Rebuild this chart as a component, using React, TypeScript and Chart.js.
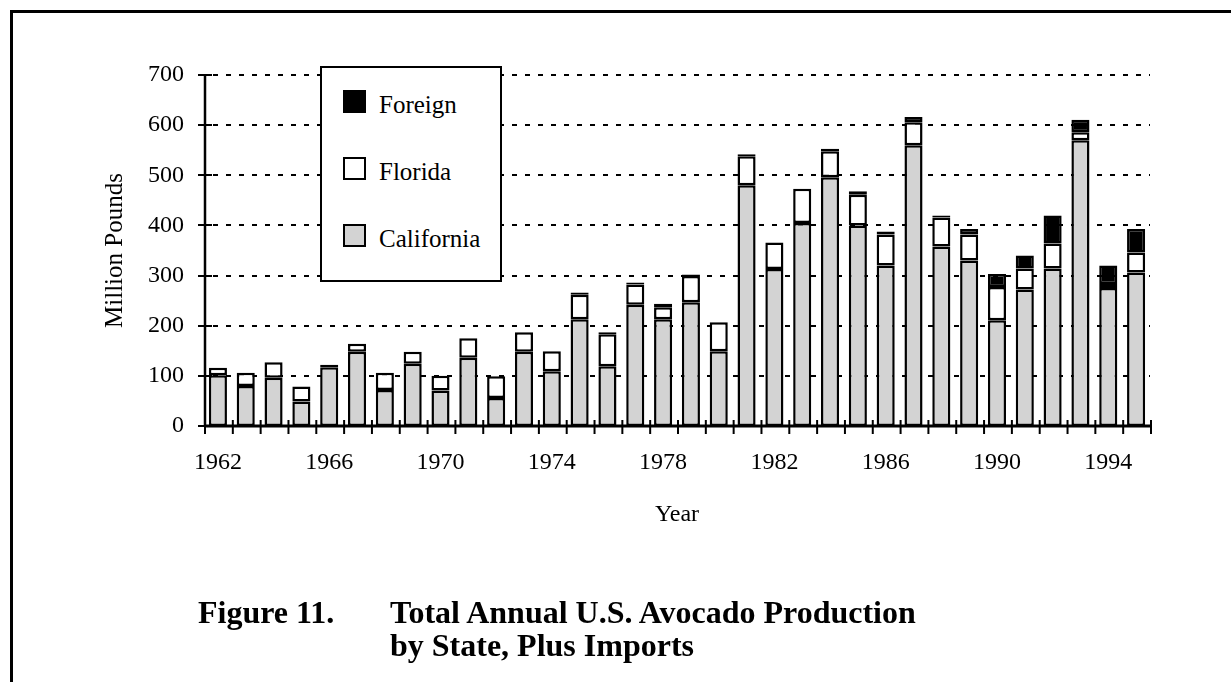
import React, { useEffect, useRef } from "react";
import { Chart, registerables } from "chart.js";

Chart.register(...registerables);

const years = [
  "1962", "1963", "1964", "1965", "1966", "1967", "1968", "1969", "1970", "1971",
  "1972", "1973", "1974", "1975", "1976", "1977", "1978", "1979", "1980", "1981",
  "1982", "1983", "1984", "1985", "1986", "1987", "1988", "1989", "1990", "1991",
  "1992", "1993", "1994", "1995",
];
const california = [
  101, 80, 96, 49, 117, 148, 72, 124, 71, 136,
  56, 148, 109, 213, 119, 242, 213, 247, 149, 480,
  313, 405, 496, 400, 320, 560, 358, 330, 211, 272,
  314, 570, 275, 306,
];
const florida = [
  15, 26, 31, 30, 5, 16, 34, 24, 29, 39,
  43, 39, 40, 49, 64, 40, 24, 52, 58, 58,
  53, 68, 52, 61, 62, 46, 58, 52, 66, 42,
  50, 16, 8, 40,
];
const foreign = [
  0, 0, 0, 0, 0, 0, 0, 0, 0, 0,
  0, 0, 0, 4, 4, 4, 7, 3, 0, 4,
  0, 0, 5, 7, 6, 10, 4, 11, 26, 26,
  56, 25, 37, 47,
];
const yTickValues = [0, 100, 200, 300, 400, 500, 600, 700];
const xTickLabels = ["1962", "1966", "1970", "1974", "1978", "1982", "1986", "1990", "1994"];

const FONT = "'Liberation Serif', 'Times New Roman', Times, serif";

const decorPlugin = {
  id: "decor",
  beforeDatasetsDraw(chart: any) {
    const { ctx, chartArea: a, scales } = chart;
    const y = scales.y;
    ctx.save();
    ctx.strokeStyle = "#000";
    ctx.lineWidth = 2;
    ctx.setLineDash([5, 8]);
    for (const v of yTickValues) {
      if (v === 0) continue;
      const py = Math.round(y.getPixelForValue(v));
      ctx.beginPath();
      ctx.moveTo(a.left + 9, py);
      ctx.lineTo(a.right, py);
      ctx.stroke();
    }
    ctx.restore();
  },
  afterDatasetsDraw(chart: any) {
    const { ctx, chartArea: a, scales } = chart;
    const x = scales.x;
    const y = scales.y;
    ctx.save();
    ctx.strokeStyle = "#000";
    ctx.setLineDash([]);
    // y axis line
    ctx.lineWidth = 2.5;
    ctx.beginPath();
    ctx.moveTo(a.left + 1, y.getPixelForValue(yTickValues[yTickValues.length - 1]));
    ctx.lineTo(a.left + 1, a.bottom + 1);
    ctx.stroke();
    // y ticks
    ctx.lineWidth = 2;
    for (const v of yTickValues) {
      const py = Math.round(y.getPixelForValue(v));
      ctx.beginPath();
      ctx.moveTo(a.left - 6, py);
      ctx.lineTo(a.left + 8, py);
      ctx.stroke();
    }
    // x axis line
    ctx.lineWidth = 3;
    ctx.beginPath();
    ctx.moveTo(a.left, a.bottom);
    ctx.lineTo(a.right + 2, a.bottom);
    ctx.stroke();
    // x ticks at category boundaries
    const n = years.length;
    const half = (x.getPixelForValue(1) - x.getPixelForValue(0)) / 2;
    ctx.lineWidth = 2;
    for (let i = 0; i <= n; i++) {
      const px = i < n ? x.getPixelForValue(i) - half : x.getPixelForValue(n - 1) + half;
      ctx.beginPath();
      ctx.moveTo(px + 1, a.bottom - 6);
      ctx.lineTo(px + 1, a.bottom + 8);
      ctx.stroke();
    }
    ctx.restore();
  },
};

export default function App() {
  const ref = useRef<HTMLCanvasElement>(null);

  useEffect(() => {
    if (!ref.current) return;
    const barCommon = {
      borderColor: "#000",
      borderWidth: 2.5,
      borderSkipped: false as const,
    };
    const chart = new Chart(ref.current, {
      type: "bar",
      data: {
        labels: years,
        datasets: [
          { label: "California", data: california, backgroundColor: "#d3d3d3", ...barCommon },
          { label: "Florida", data: florida, backgroundColor: "#ffffff", ...barCommon },
          { label: "Foreign", data: foreign, backgroundColor: "#000000", ...barCommon },
        ],
      },
      options: {
        responsive: false,
        animation: false,
        devicePixelRatio: 1,
        layout: { padding: { left: 100, right: 81, top: 75, bottom: 146 } },
        plugins: {
          legend: { display: false },
          tooltip: { enabled: false },
        },
        datasets: { bar: { barPercentage: 0.65, categoryPercentage: 1 } },
        scales: {
          x: {
            stacked: true,
            grid: { display: false, drawTicks: false },
            border: { display: false },
            ticks: {
              autoSkip: false,
              maxRotation: 0,
              minRotation: 0,
              padding: 22,
              color: "#000",
              font: { family: FONT, size: 24 },
              callback: (_v: any, i: number) =>
                xTickLabels.includes(years[i]) ? years[i] : "",
            },
            title: {
              display: true,
              text: "Year",
              color: "#000",
              font: { family: FONT, size: 24 },
              padding: { top: 0, bottom: 7 },
            },
            afterFit: (s: any) => {
              s.height = 110;
            },
          },
          y: {
            stacked: true,
            min: 0,
            max: 700,
            grid: { display: false, drawTicks: false },
            border: { display: false },
            ticks: {
              stepSize: 100,
              padding: 20,
              color: "#000",
              font: { family: FONT, size: 24 },
            },
            title: {
              display: true,
              text: "Million Pounds",
              color: "#000",
              font: { family: FONT, size: 25 },
              padding: { top: 0, bottom: 0 },
            },
            afterFit: (s: any) => {
              s.width = 104;
            },
          },
        },
      },
      plugins: [decorPlugin],
    });
    return () => chart.destroy();
  }, []);

  const legendItems = [
    { label: "Foreign", fill: "#000000", top: 90 },
    { label: "Florida", fill: "#ffffff", top: 157 },
    { label: "California", fill: "#d3d3d3", top: 224 },
  ];

  return (
    <div
      style={{
        position: "fixed",
        left: 0,
        top: 0,
        width: 1231,
        height: 682,
        background: "#fff",
        overflow: "hidden",
      }}
    >
      <canvas
        ref={ref}
        width={1231}
        height={682}
        style={{ position: "absolute", left: 0, top: 0, width: 1231, height: 682 }}
      />
      <div
        style={{
          position: "absolute",
          left: 10,
          top: 10,
          width: 1240,
          height: 700,
          borderTop: "3px solid #000",
          borderLeft: "3px solid #000",
          pointerEvents: "none",
        }}
      />
      <div
        style={{
          position: "absolute",
          left: 320,
          top: 66,
          width: 178,
          height: 212,
          border: "2px solid #000",
          background: "#fff",
        }}
      />
      {legendItems.map((it) => (
        <React.Fragment key={it.label}>
          <div
            style={{
              position: "absolute",
              left: 343,
              top: it.top,
              width: 19,
              height: 19,
              border: "2px solid #000",
              background: it.fill,
            }}
          />
          <div
            style={{
              position: "absolute",
              left: 379,
              top: it.top + 2,
              fontFamily: FONT,
              fontSize: 25,
              lineHeight: "25px",
              color: "#000",
              whiteSpace: "nowrap",
            }}
          >
            {it.label}
          </div>
        </React.Fragment>
      ))}
      <div
        style={{
          position: "absolute",
          left: 198,
          top: 596,
          fontFamily: FONT,
          fontWeight: "bold",
          fontSize: 32,
          lineHeight: "33px",
          color: "#000",
          whiteSpace: "nowrap",
        }}
      >
        Figure 11.
      </div>
      <div
        style={{
          position: "absolute",
          left: 390,
          top: 596,
          fontFamily: FONT,
          fontWeight: "bold",
          fontSize: 32,
          lineHeight: "33px",
          color: "#000",
          whiteSpace: "nowrap",
        }}
      >
        Total Annual U.S. Avocado Production
        <br />
        by State, Plus Imports
      </div>
    </div>
  );
}
